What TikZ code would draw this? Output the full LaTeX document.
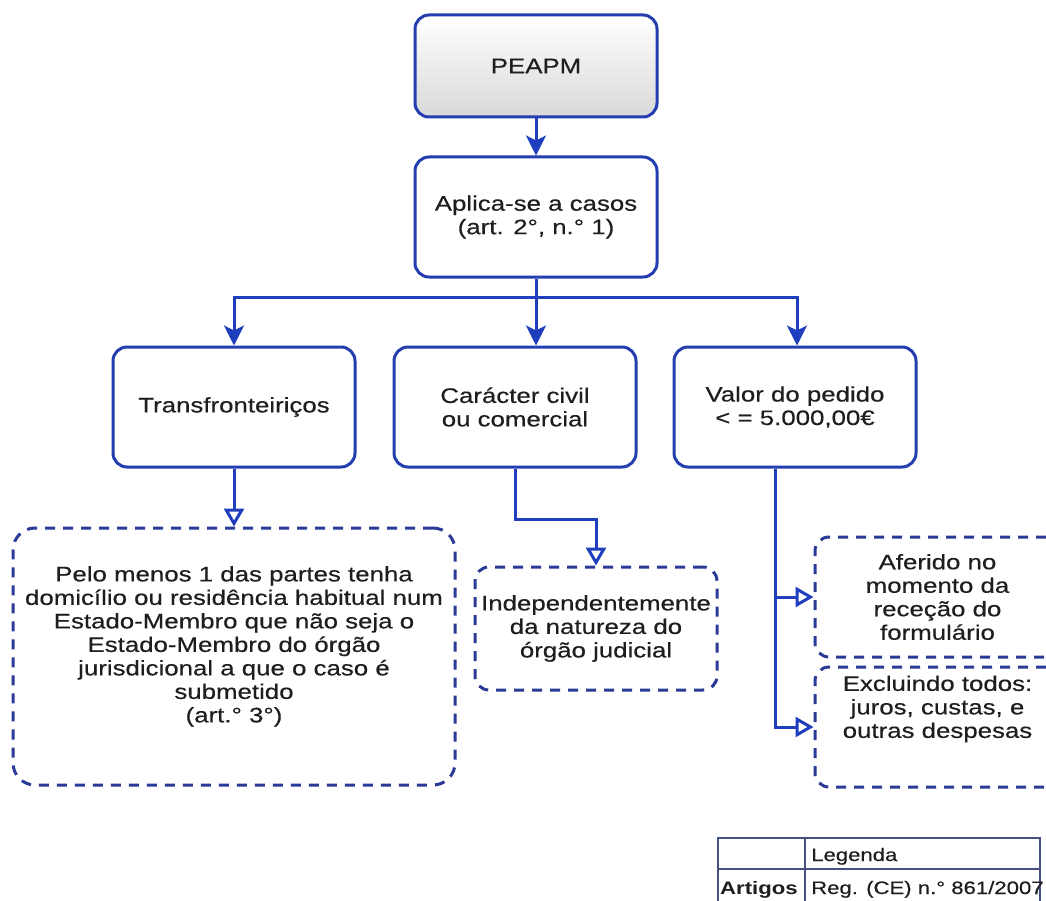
\documentclass[tikz,border=0pt]{standalone}
\usepackage{fontspec}
\setmainfont[FakeStretch=1.23, UprightFeatures={FakeBold=0.4}]{Liberation Sans}
\usetikzlibrary{arrows.meta}
\definecolor{linkblue}{RGB}{30,62,190}
\definecolor{boxblue}{RGB}{35,62,175}
\definecolor{dashblue}{RGB}{42,58,150}
\definecolor{txt}{RGB}{30,30,30}
\definecolor{tabline}{RGB}{70,80,130}
\begin{document}
\begin{tikzpicture}[x=1pt,y=-1pt,
  every node/.style={text=txt, font=\fontsize{21}{23.5}\selectfont, align=center, inner sep=0pt},
  stepbox/.style={draw=boxblue, line width=3pt, rounded corners=14pt, fill=white,
    minimum width=242pt, minimum height=120pt},
  notebox/.style={draw=dashblue, line width=3pt, dash pattern=on 10pt off 8pt,
    rounded corners=14pt, fill=white},
  link/.style={draw=linkblue, line width=3pt},
  solidtip/.style={-{Stealth[length=20pt,width=20pt,inset=5pt]}},
  opentip/.style={-{Triangle[open,length=18pt,width=20pt,fill=white]}},
  legtext/.style={font=\fontsize{18}{21}\selectfont, anchor=base west},
]
\useasboundingbox (0,0) rectangle (1046,901);
\clip (0,0) rectangle (1046,901);
\fill[white] (0,0) rectangle (1046,901);

% main chain
\node[stepbox, minimum height=102pt, top color=white, bottom color=black!15] (peapm) at (536,66) {PEAPM};
\node[stepbox] (aplica) at (536,217) {Aplica-se a casos\\(art. 2°, n.° 1)};

% three conditions
\node[stepbox] (trans) at (234,407) {Transfronteiriços};
\node[stepbox] (carac) at (515,407) {Carácter civil\\ou comercial};
\node[stepbox] (valor) at (795,407) {Valor do pedido\\< = 5.000,00€};

% notes
\node[notebox, rounded corners=22pt, minimum width=442pt, minimum height=257pt] (pelo) at (234,656.5)
  {Pelo menos 1 das partes tenha\\domicílio ou residência habitual num\\Estado-Membro que não seja o\\Estado-Membro do órgão\\jurisdicional a que o caso é\\submetido\\(art.° 3°)\\[1pt]\mbox{}};
\node[notebox, minimum width=242pt, minimum height=123pt] (indep) at (596,628.5)
  {Independentemente\\da natureza do\\órgão judicial};
\node[notebox, minimum width=245pt, minimum height=120pt] (afer) at (937.5,597)
  {Aferido no\\momento da\\receção do\\formulário};
\node[notebox, minimum width=245pt, minimum height=120pt] (excl) at (937.5,727)
  {Excluindo todos:\\juros, custas, e\\outras despesas\\[17pt]\mbox{}};

% connectors
\coordinate (j) at (536,297);
\draw[link, solidtip] (peapm) -- (aplica);
\draw[link] (aplica.south) -- (j);
\draw[link, solidtip] (j) -| (trans.north);
\draw[link, solidtip] (j) -- (j |- carac.north);
\draw[link, solidtip] (j) -| ([xshift=2pt]valor.north);
\draw[link, opentip] (trans) -- (pelo);
\draw[link, opentip] (carac.south) -- ++(0,51) -| (indep.north);
\coordinate (v) at ([xshift=-20pt]valor.south);
\draw[link, opentip] (v) |- (excl.west);
\draw[link, opentip] (v |- afer.west) -- (afer.west);

% legend table
\draw[tabline, line width=1.2pt] (718,838) rectangle (1040,906);
\draw[tabline, line width=1.2pt] (718,869) -- (1040,869) (805,838) -- (805,906);
\node[legtext] (leg) at (811,861) {Legenda};
\node[legtext, font=\fontsize{18}{21}\selectfont\bfseries] (art) at (720,894) {Artigos};
\node[legtext] (reg) at (811,894) {Reg. (CE) n.° 861/2007};
\end{tikzpicture}
\end{document}
